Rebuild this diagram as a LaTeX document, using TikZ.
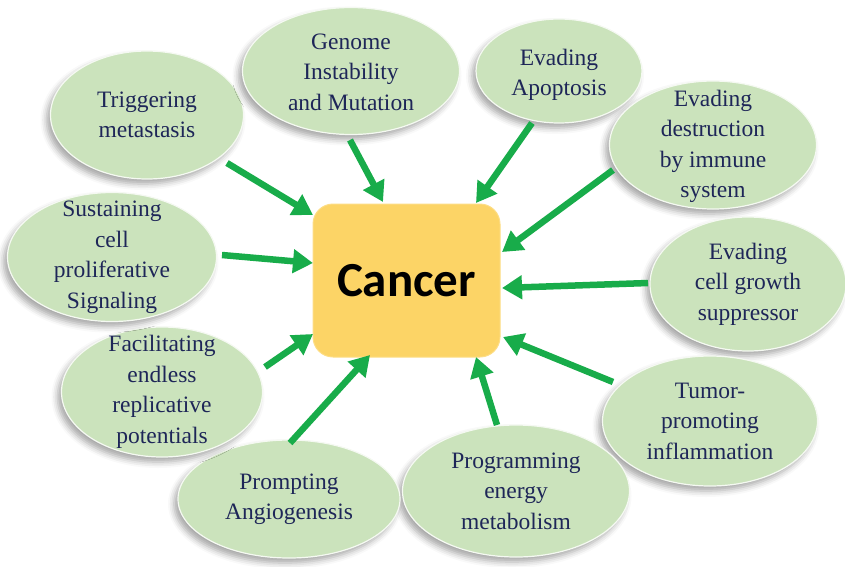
\documentclass[tikz,border=0pt]{standalone}
\usepackage{fontspec}
\setmainfont{Liberation Serif}
\newfontfamily\leafface{Liberation Serif}
\newfontfamily\calfont{Carlito}
\usetikzlibrary{shapes.geometric,arrows.meta,shadows.blur}
\definecolor{leafgreen}{RGB}{203,227,188}
\definecolor{inknavy}{RGB}{30,38,88}
\definecolor{arrowgreen}{RGB}{24,172,74}
\definecolor{boxgold}{RGB}{252,212,102}
\begin{document}
\begin{tikzpicture}[x=1pt,y=-1pt,
  hallmark/.style={ellipse, fill=leafgreen, draw=white!80!leafgreen, line width=1.2pt,
    inner sep=0pt,
    blur shadow={shadow xshift=-4pt, shadow yshift=-5pt, shadow blur radius=6pt, shadow opacity=35}},
  hallmarktext/.style={text=inknavy, align=center, inner sep=0pt,
    font=\leafface\fontsize{23.5}{30.5}\selectfont},
  core/.style={rectangle, rounded corners=20pt, fill=boxgold, draw=boxgold!80!white,
    line width=1pt, minimum width=187pt, minimum height=153pt, inner sep=0pt,
    font=\calfont\bfseries\fontsize{49}{55}\selectfont, text=black},
  feed/.style={draw=arrowgreen, line width=6.5pt, -{Triangle[length=20pt,width=23pt]}}
]
\useasboundingbox (0,0) rectangle (845,566);

% surrounding hallmark ellipses
\node[hallmark, minimum width=193pt, minimum height=128pt] (trig) at (147,115) {};
\node[hallmark, minimum width=217pt, minimum height=127pt] (geno) at (351,71) {};
\node[hallmark, minimum width=166pt, minimum height=104pt] (apop) at (559,71) {};
\node[hallmark, minimum width=207pt, minimum height=128pt] (immu) at (713,145) {};
\node[hallmark, minimum width=196pt, minimum height=134pt] (grow) at (748,284) {};
\node[hallmark, minimum width=215pt, minimum height=130pt] (infl) at (710,421) {};
\node[hallmark, minimum width=227pt, minimum height=132pt] (meta) at (516,491) {};
\node[hallmark, minimum width=222pt, minimum height=118pt] (angi) at (289,499) {};
\node[hallmark, minimum width=201pt, minimum height=130pt] (repl) at (162,392) {};
\node[hallmark, minimum width=209pt, minimum height=129pt] (sust) at (112,257) {};

% their captions
\node[hallmarktext] (trigL) at (trig) {Triggering\\metastasis};
\node[hallmarktext] (genoL) at ([yshift=-1pt]geno) {Genome\\Instability\\and Mutation};
\node[hallmarktext] (apopL) at ([yshift=-4pt]apop) {Evading\\Apoptosis};
\node[hallmarktext] (immuL) at ([yshift=-1.5pt]immu) {Evading\\destruction\\by immune\\system};
\node[hallmarktext] (growL) at (grow) {Evading\\cell growth\\suppressor};
\node[hallmarktext] (inflL) at (infl) {Tumor-\\promoting\\inflammation};
\node[hallmarktext] (metaL) at (meta) {Programming\\energy\\metabolism};
\node[hallmarktext] (angiL) at (angi) {Prompting\\Angiogenesis};
\node[hallmarktext] (replL) at (repl) {Facilitating\\endless\\replicative\\potentials};
\node[hallmarktext] (sustL) at (sust) {Sustaining\\cell\\proliferative\\Signaling};

% central box
\node[core] (cancer) at (406.5,280.5) {Cancer};

% arrow ends
\coordinate (trigT) at (227,163);  \coordinate (trigH) at (313,215);
\coordinate (genoT) at (350,140);  \coordinate (genoH) at (383,202);
\coordinate (apopT) at (532,123);  \coordinate (apopH) at (476,203);
\coordinate (immuT) at (613,170);  \coordinate (immuH) at (502,252);
\coordinate (growT) at (648,283);  \coordinate (growH) at (502,288);
\coordinate (inflT) at (613,382);  \coordinate (inflH) at (503,337);
\coordinate (metaT) at (497,425);  \coordinate (metaH) at (476,357);
\coordinate (angiT) at (290,443);  \coordinate (angiH) at (370,355);
\coordinate (replT) at (265,367);  \coordinate (replH) at (313,334);
\coordinate (sustT) at (222,255);  \coordinate (sustH) at (313,263);

\foreach \k in {trig,geno,apop,immu,grow,infl,meta,angi,repl,sust}
  \draw[feed] (\k T) -- (\k H);
\end{tikzpicture}
\end{document}
